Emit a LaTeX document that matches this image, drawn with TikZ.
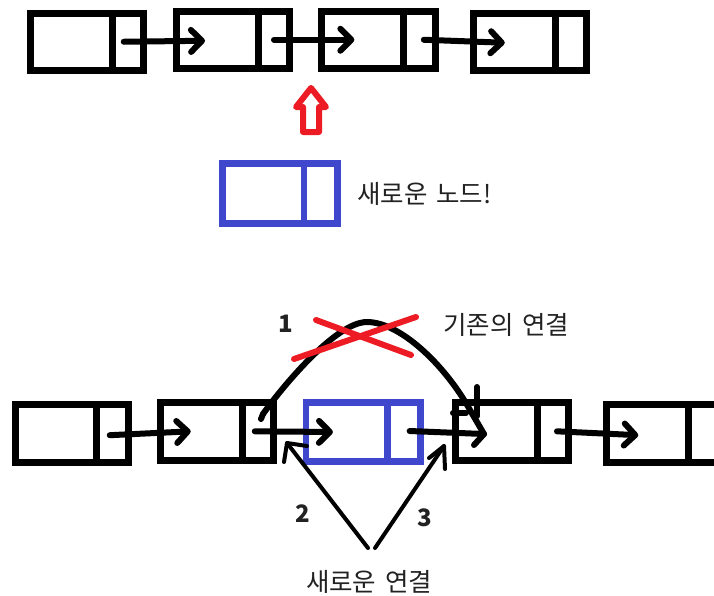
\documentclass[tikz,border=0pt]{standalone}
\usepackage{fontspec}
\setmainfont[WordSpace=1.5]{Noto Sans CJK KR}
\usetikzlibrary{arrows.meta,calc}
\definecolor{pblue}{HTML}{3F48CC}
\definecolor{pred}{HTML}{ED1C24}
\definecolor{ink}{HTML}{222222}
\begin{document}
\begin{tikzpicture}[x=1pt,y=-1pt,
  box/.style={draw=black, line width=7pt, minimum width=113.5pt, minimum height=57.5pt, inner sep=0pt, outer sep=0pt},
  bluebox/.style={box, draw=pblue, line width=6.7pt, minimum width=114.7pt, minimum height=59.4pt},
  divider/.style={line width=7pt},
  link/.style={line width=6pt, line cap=round, line join=round, -{Straight Barb[length=11pt,width=22pt,round]}},
  plainlink/.style={line width=6pt, line cap=round, line join=round},
  thinlink/.style={line width=4pt, line cap=round, line join=round},
  redline/.style={draw=pred, line width=6pt, line cap=round, line join=round},
  lbl/.style={inner sep=0pt, font=\fontsize{25.5}{28}\selectfont, text=ink},
  num/.style={inner sep=0pt, font=\fontsize{24}{26}\selectfont\bfseries, text=ink}
]
\useasboundingbox (0,0) rectangle (714,595);
\fill[white] (0,0) rectangle (714,595);

% ---------- top row ----------
\node[box] (b1) at (87,41.75) {};
\node[box] (b2) at (232.75,39.75) {};
\node[box] (b3) at (378.6,39.75) {};
\node[box] (b4) at (530,41.75) {};
\foreach \b in {b1,b2,b3,b4}{
  \draw[divider] ([xshift=-31.5pt]\b.north east) -- ([xshift=-31.5pt]\b.south east);
}
\draw[link] ([xshift=-20pt]b1.east) -- ([xshift=29pt,yshift=-1pt]b2.west);
\draw[link] ([xshift=-15.5pt]b2.east) -- ([xshift=32.5pt]b3.west);
\draw[link] ([xshift=-11.5pt]b3.east) -- ([xshift=31.5pt,yshift=-1pt]b4.west);

% red hollow arrow
\draw[redline] (311,88) -- (326,107) -- (319,107) -- (319,132) -- (303,132) -- (303,107) -- (296,107) -- cycle;

% new node
\node[bluebox] (nb) at (280,193.5) {};
\draw[divider, draw=pblue, line width=6.7pt] ([xshift=-33.5pt]nb.north east) -- ([xshift=-33.5pt]nb.south east);
\node[lbl, anchor=west] (newnode) at (357,194) {새로운 노드!};

% ---------- bottom row ----------
\node[box, minimum height=58pt] (a) at (72,433.2) {};
\node[box] (b) at (217,431.3) {};
\node[bluebox] (m) at (363.3,432) {};
\node[box] (d) at (512.2,431.3) {};
\node[box, minimum height=58pt] (e) at (663,433.2) {};
\foreach \b/\o in {a/31.8,b/30.8,d/31.5,e/31.5}{
  \draw[divider] ([xshift=-\o pt]\b.north east) -- ([xshift=-\o pt]\b.south east);
}
\draw[divider, draw=pblue, line width=6.7pt] ([xshift=-33pt]m.north east) -- ([xshift=-33pt]m.south east);

\draw[link] ([xshift=-19pt,yshift=-2pt]a.east) -- ([xshift=30.5pt]b.west);
\draw[link] ([xshift=-19pt]b.east) -- ([xshift=27pt]m.west);
\draw[link] ([xshift=-12pt]d.east) -- ([xshift=32pt,yshift=-2pt]e.west);

% link from new node to d (head merged with old link's head)
\coordinate (tipD) at (484,434);
\draw[plainlink] ([xshift=-11pt,yshift=1pt]m.east) -- (tipD);

% old link (arc) from b to d
\coordinate (arcS) at (263,414);
\coordinate (arcT) at (367,322);
\coordinate (arcE) at (470,410);
\draw[plainlink] (arcS) .. controls (280,390) and (335,322) .. (arcT)
  .. controls (400,322) and (445,365) .. (arcE) -- (tipD) -- ++(-10,11);
\draw[plainlink] (477,387) -- (477,416);
\draw[plainlink] (453,413) -- (466,413);
\draw[plainlink] (263,414) -- (261,419);

% red cross on old link
\draw[redline] (316,320) -- (411,355);
\draw[redline] (294,359) -- (416,317);

\node[num] (n1) at (286,324) {1};
\node[lbl, anchor=west] (old) at (443,325) {기존의 연결};

% new links 2 and 3
\node[lbl] (newlink) at (369,582) {새로운 연결};
\coordinate (s2) at (368,548);
\coordinate (s3) at (375,548);
\coordinate (t2) at (287,443);
\coordinate (t3) at (444,446);
\draw[thinlink] (s2) -- (t2);
\draw[thinlink] ($(t2)+(20,3)$) -- (t2) -- ($(t2)+(-3,19)$);
\draw[thinlink] (s3) -- (t3);
\draw[thinlink] ($(t3)+(-15,12)$) -- (t3) -- ($(t3)+(1,23)$);

\node[num] (n2) at (303,514) {2};
\node[num] (n3) at (425,517.5) {3};
\end{tikzpicture}
\end{document}
